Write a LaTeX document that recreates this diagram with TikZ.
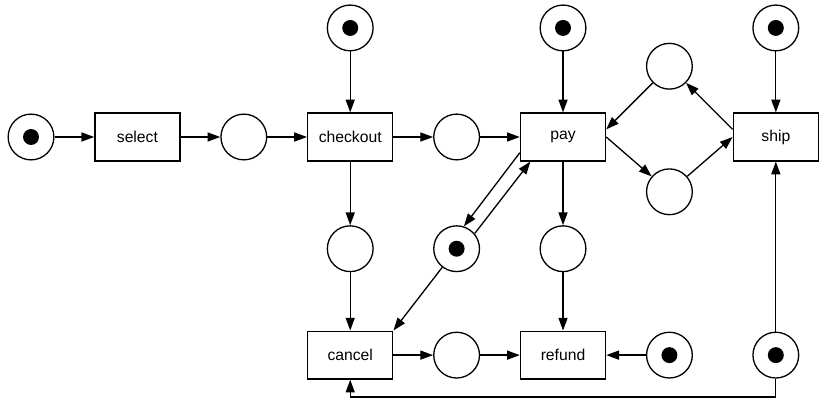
\documentclass[tikz,border=0pt]{standalone}
\usepackage{fontspec}
\setmainfont{Liberation Sans}
\usetikzlibrary{arrows.meta}

\begin{document}
\begin{tikzpicture}[
		place/.style={draw, circle, line width=0.7pt, minimum size=0.86cm, inner sep=0pt},
		marked/.style={place, path picture={\fill (path picture bounding box.center) circle (0.15cm);}},
		trans/.style={draw, rectangle, line width=0.7pt, minimum width=1.6cm, minimum height=0.9cm, font=\fontsize{8.4}{10}\selectfont},
		arc/.style={line width=0.7pt, -{Triangle[length=2.4mm, width=1.7mm]}}
	]
		\useasboundingbox (-0.583,-4.925) rectangle (14.943,2.575);

		% upper row
		\node[marked] (p1) at (0,0) {};
		\node[trans] (select) at (2,0) {select};
		\node[place] (p2) at (4,0) {};
		\node[trans] (checkout) at (6,0) {checkout};
		\node[place] (p4) at (8,0) {};
		\node[trans] (pay) at (10,0) {pay};
		\node[trans] (ship) at (14,0) {ship};

		\node[marked] (p3) at (6,2.05) {};
		\node[marked] (p5) at (10,2.05) {};
		\node[marked] (p8) at (14,2.05) {};
		\node[place] (p6) at (12,1.33) {};
		\node[place] (p7) at (12,-1.03) {};

		% middle row
		\node[place] (p9) at (6,-2.1) {};
		\node[marked] (p10) at (8,-2.1) {};
		\node[place] (p11) at (10,-2.1) {};

		% lower row
		\node[trans] (cancel) at (6,-4.1) {cancel};
		\node[place] (p12) at (8,-4.1) {};
		\node[trans] (refund) at (10,-4.1) {refund};
		\node[marked] (p13) at (12,-4.1) {};
		\node[marked] (p14) at (14,-4.1) {};
		\coordinate (back) at (14,-4.887);

		\draw[arc] (p1) -- (select);
		\draw[arc] (select) -- (p2);
		\draw[arc] (p2) -- (checkout);
		\draw[arc] (p3) -- (checkout);
		\draw[arc] (checkout) -- (p4);
		\draw[arc] (p4) -- (pay);
		\draw[arc] (p5) -- (pay);
		\draw[arc] (pay.east) -- (p7);
		\draw[arc] (p7) -- (ship.west);
		\draw[arc] (ship.170) -- (p6);
		\draw[arc] (p6) -- (pay.10);
		\draw[arc] (p8) -- (ship);

		\draw[arc] (checkout) -- (p9);
		\draw[arc] (p9) -- (cancel);
		\draw[arc] (pay.200) -- (p10.72);
		\draw[arc] (p10.40) -- (pay.217);
		\draw[arc] (p10) -- (cancel.north east);
		\draw[arc] (pay) -- (p11);
		\draw[arc] (p11) -- (refund);

		\draw[arc] (cancel) -- (p12);
		\draw[arc] (p12) -- (refund);
		\draw[arc] (p13) -- (refund);
		\draw[arc] (p14) -- (ship);
		\draw[arc] (p14) -- (back) -| (cancel);
	\end{tikzpicture}
\end{document}
